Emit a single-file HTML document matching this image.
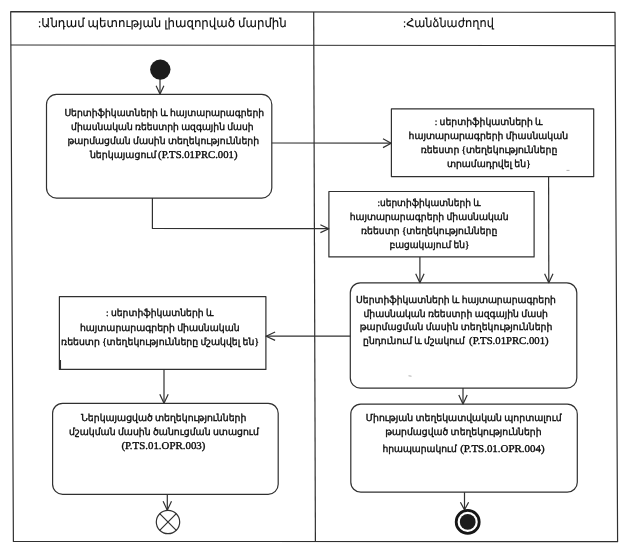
<!DOCTYPE html>
<html lang="hy">
<head>
<meta charset="utf-8">
<title>Activity diagram</title>
<style>
html,body{margin:0;padding:0;background:#fff;}
body{width:624px;height:550px;overflow:hidden;font-family:"Liberation Serif",serif;}
svg{display:block;filter:grayscale(1);}
.ln{fill:none;stroke:#303030;stroke-width:1.2;stroke-linejoin:round;}
.tx{font-family:"Liberation Serif",serif;fill:#0a0a0a;stroke:#0a0a0a;stroke-width:0.36;text-rendering:geometricPrecision;}
.hd{stroke-width:0.12;}
</style>
</head>
<body>
<svg width="624" height="550" viewBox="0 0 624 550">
<rect x="0" y="0" width="624" height="550" fill="#fff"/>
<g class="ln">
<path d="M10.7 11.6 L615.0 12.4 L617.6 541.7 L13.4 541.4 Z"/>
<path d="M10.9 45.0 L615.2 45.6"/>
<path d="M313.7 12 L315.4 541.5"/>
<rect x="46.5" y="94.4" width="225.3" height="103.7" rx="10" ry="10"/>
<rect x="391.4" y="108.9" width="202.3" height="67.7" rx="0" ry="0"/>
<rect x="328.9" y="191.5" width="205.2" height="65.4" rx="0" ry="0"/>
<rect x="59.4" y="296.6" width="206.5" height="72.8" rx="0" ry="0"/>
<rect x="350.3" y="282.8" width="226.5" height="105.3" rx="10" ry="10"/>
<rect x="52.6" y="403.3" width="225.6" height="91.0" rx="10" ry="10"/>
<rect x="350.8" y="404.1" width="226.5" height="88.1" rx="10" ry="10"/>
<path d="M160 79 L160 93.8"/>
<path d="M156.1 85.7 L160.0 94.0 L163.9 85.7"/>
<path d="M271.8 143.0 L391 143.2"/>
<path d="M383.0 138.8 L391.2 143.2 L383.0 147.6"/>
<path d="M152.4 198.1 L152.4 228.4 L328.5 228.7"/>
<path d="M320.4 224.8 L328.8 228.7 L320.4 232.6"/>
<path d="M548.6 176.6 L548.8 282.4"/>
<path d="M544.6 273.7 L548.8 282.7 L553.0 273.7"/>
<path d="M419.9 256.9 L419.9 282.4"/>
<path d="M415.7 273.7 L419.9 282.7 L424.1 273.7"/>
<path d="M350.3 336.2 L266.2 336.2"/>
<path d="M275.1 332.0 L266.1 336.2 L275.1 340.4"/>
<path d="M164 369.4 L164 403"/>
<path d="M159.8 394.3 L164.0 403.3 L168.2 394.3"/>
<path d="M463 388.1 L463 403.7"/>
<path d="M458.8 395.0 L463.0 404.0 L467.2 395.0"/>
<path d="M167.3 494.3 L167.3 510"/>
<path d="M163.1 501.2 L167.3 510.2 L171.5 501.2"/>
<path d="M464.5 492.2 L464.5 509.5"/>
<path d="M460.4 502.3 L464.5 509.8 L468.6 502.3"/>
<circle cx="168.0" cy="522.0" r="11.7"/>
<path d="M159.7 513.7 L176.3 530.3 M176.3 513.7 L159.7 530.3"/>
</g>
<g>
<path d="M60.1 360 L60.1 369.4" stroke="#303030" stroke-width="1.9" fill="none"/>
<path d="M566.5 170.4 L569.5 170.4 M408.5 375.8 L411.5 376.2" stroke="#a8a8a8" stroke-width="0.9" fill="none"/>
<circle cx="160.3" cy="69.6" r="10.2" fill="#1c1c1c" stroke="none"/>
<circle cx="467.7" cy="521.9" r="11.5" fill="#fff" stroke="#161616" stroke-width="2.8"/>
<circle cx="467.7" cy="521.9" r="7.9" fill="#1c1c1c" stroke="none"/>
</g>
<g class="tx">
<text class="hd" x="38.1" y="26.9" font-size="12.3" textLength="248.7" lengthAdjust="spacingAndGlyphs">:Անդամ պետության լիազորված մարմին</text>
<text class="hd" x="403.0" y="26.9" font-size="12.3" textLength="90.9" lengthAdjust="spacingAndGlyphs">:Հանձնաժողով</text>
<text x="64.4" y="116.0" font-size="9.6" textLength="199.7" lengthAdjust="spacingAndGlyphs">Սերտիֆիկատների և հայտարարագրերի</text>
<text x="71.1" y="129.8" font-size="9.6" textLength="182.5" lengthAdjust="spacingAndGlyphs">միասնական ռեեստրի ազգային մասի</text>
<text x="67.4" y="143.8" font-size="9.6" textLength="191.7" lengthAdjust="spacingAndGlyphs">թարմացման մասին տեղեկությունների</text>
<text x="89.9" y="157.6" font-size="9.6" textLength="66.5" lengthAdjust="spacingAndGlyphs">ներկայացում</text>
<text x="158.1" y="157.7" font-size="10.4" textLength="79.4" lengthAdjust="spacingAndGlyphs">(P.TS.01PRC.001)</text>
<text x="434.7" y="125.0" font-size="9.6" textLength="107.9" lengthAdjust="spacingAndGlyphs">: սերտիֆիկատների և</text>
<text x="408.6" y="139.4" font-size="9.6" textLength="159.5" lengthAdjust="spacingAndGlyphs">հայտարարագրերի միասնական</text>
<text x="420.7" y="153.3" font-size="9.6" textLength="136.6" lengthAdjust="spacingAndGlyphs">ռեեստր {տեղեկությունները</text>
<text x="446.9" y="167.2" font-size="9.6" textLength="83.7" lengthAdjust="spacingAndGlyphs">տրամադրվել են}</text>
<text x="377.4" y="206.0" font-size="9.6" textLength="103.2" lengthAdjust="spacingAndGlyphs">:սերտիֆիկատների և</text>
<text x="349.7" y="220.2" font-size="9.6" textLength="158.9" lengthAdjust="spacingAndGlyphs">հայտարարագրերի միասնական</text>
<text x="361.1" y="234.0" font-size="9.6" textLength="136.2" lengthAdjust="spacingAndGlyphs">ռեեստր {տեղեկությունները</text>
<text x="389.4" y="247.8" font-size="9.6" textLength="79.9" lengthAdjust="spacingAndGlyphs">բացակայում են}</text>
<text x="106.1" y="316.0" font-size="9.6" textLength="107.3" lengthAdjust="spacingAndGlyphs">: սերտիֆիկատների և</text>
<text x="79.9" y="330.6" font-size="9.6" textLength="159.7" lengthAdjust="spacingAndGlyphs">հայտարարագրերի միասնական</text>
<text x="61.1" y="344.6" font-size="9.6" textLength="197.8" lengthAdjust="spacingAndGlyphs">ռեեստր {տեղեկությունները մշակվել են}</text>
<text x="356.1" y="302.7" font-size="9.6" textLength="199.7" lengthAdjust="spacingAndGlyphs">Սերտիֆիկատների և հայտարարագրերի</text>
<text x="363.4" y="316.5" font-size="9.6" textLength="184.5" lengthAdjust="spacingAndGlyphs">միասնական ռեեստրի ազգային մասի</text>
<text x="359.7" y="330.4" font-size="9.6" textLength="192.7" lengthAdjust="spacingAndGlyphs">թարմացման մասին տեղեկությունների</text>
<text x="363.1" y="344.0" font-size="9.6" textLength="101.8" lengthAdjust="spacingAndGlyphs">ընդունում և մշակում</text>
<text x="469.1" y="344.1" font-size="10.4" textLength="79.5" lengthAdjust="spacingAndGlyphs">(P.TS.01PRC.001)</text>
<text x="81.1" y="421.3" font-size="9.6" textLength="165.2" lengthAdjust="spacingAndGlyphs">Ներկայացված տեղեկությունների</text>
<text x="69.1" y="435.0" font-size="9.6" textLength="189.7" lengthAdjust="spacingAndGlyphs">մշակման մասին ծանուցման ստացում</text>
<text x="121.4" y="448.9" font-size="10.4" textLength="84.0" lengthAdjust="spacingAndGlyphs">(P.TS.01.OPR.003)</text>
<text x="365.7" y="421.0" font-size="9.6" textLength="195.9" lengthAdjust="spacingAndGlyphs">Միության տեղեկատվական պորտալում</text>
<text x="385.2" y="435.0" font-size="9.6" textLength="156.4" lengthAdjust="spacingAndGlyphs">թարմացված տեղեկությունների</text>
<text x="382.4" y="451.6" font-size="9.6" textLength="74.5" lengthAdjust="spacingAndGlyphs">հրապարակում</text>
<text x="460.2" y="451.7" font-size="10.4" textLength="84.4" lengthAdjust="spacingAndGlyphs">(P.TS.01.OPR.004)</text>
</g>
</svg>
</body>
</html>
